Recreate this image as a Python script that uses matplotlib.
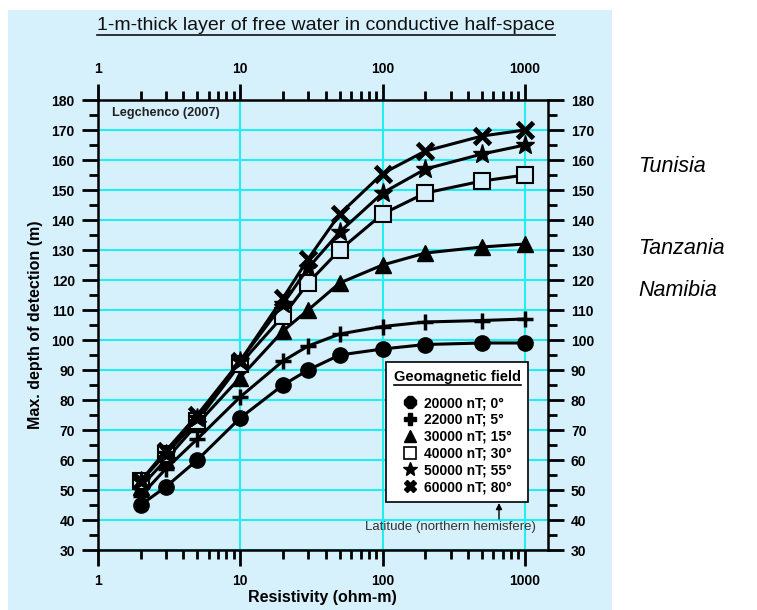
import matplotlib
matplotlib.use("Agg")
import matplotlib.pyplot as plt
from matplotlib.lines import Line2D
from matplotlib.patches import Rectangle
from matplotlib.ticker import FixedLocator, NullFormatter, MultipleLocator

plt.rcParams['font.family'] = ['Liberation Sans', 'DejaVu Sans']
plt.rcParams['font.weight'] = 'bold'
plt.rcParams['axes.labelweight'] = 'bold'

# data
resistivity = [2, 3, 5, 10, 20, 30, 50, 100, 200, 500, 1000]
depth_20000 = [45, 51, 60, 74, 85, 90, 95, 97, 98.5, 99, 99]
depth_22000 = [48, 57, 67, 81, 93, 98, 102, 104.5, 106, 106.5, 107]
depth_30000 = [51, 60, 72, 87.5, 103, 110, 119, 125, 129, 131, 132]
depth_40000 = [53, 62, 73, 92, 108, 119, 130, 142, 149, 153, 155]
depth_50000 = [53, 62, 74, 93, 112, 124, 136, 149, 157, 162, 165]
depth_60000 = [53, 63, 75, 93, 114, 127, 142, 155.5, 163, 168, 170]
series_labels = ['20000 nT; 0°', '22000 nT; 5°', '30000 nT; 15°',
                 '40000 nT; 30°', '50000 nT; 55°', '60000 nT; 80°']
countries = ['Tunisia', 'Tanzania', 'Namibia']

BG = '#d6f0fc'
GRID = '#22eef2'
W, H = 757, 610

fig = plt.figure(figsize=(W / 100, H / 100), dpi=100)
fig.patches.append(Rectangle((8 / W, 0), 604 / W, 600 / H, transform=fig.transFigure,
                             facecolor=BG, edgecolor='none', zorder=-10))
ax = fig.add_axes([97.7 / W, 60 / H, (548 - 97.7) / W, 450 / H])
ax.set_facecolor(BG)

all_depths = [depth_20000, depth_22000, depth_30000, depth_40000, depth_50000, depth_60000]
styles = [
    dict(marker='o', markersize=11, markerfacecolor='black'),
    dict(marker='+', markersize=12, markeredgewidth=2.5),
    dict(marker='^', markersize=11, markerfacecolor='black'),
    dict(marker='s', markersize=12, markerfacecolor=BG, markeredgewidth=1.5),
    dict(marker='*', markersize=14, markerfacecolor='black'),
    dict(marker='x', markersize=12, markeredgewidth=3.5),
]
for depths, st in zip(all_depths, styles):
    ax.plot(resistivity, depths, color='black', lw=2.2, markeredgecolor='black', zorder=3, **st)

ax.set_xscale('log')
ax.set_xlim(1, 10 ** (3 + 23 / 142.4))
ax.set_ylim(30, 180)
ax.xaxis.set_major_locator(FixedLocator([1, 10, 100, 1000]))
ax.set_xticklabels(['1', '10', '100', '1000'])
minors = [m * d for d in (1, 10, 100) for m in range(2, 10)]
ax.xaxis.set_minor_locator(FixedLocator(minors))
ax.xaxis.set_minor_formatter(NullFormatter())
ax.yaxis.set_major_locator(MultipleLocator(10))
ax.yaxis.set_minor_locator(MultipleLocator(5))

ax.grid(True, which='major', color=GRID, lw=1.5, zorder=0)
ax.set_axisbelow(True)
for sp in ax.spines.values():
    sp.set_linewidth(1.8)

ax.tick_params(which='both', direction='out', top=True, right=True,
               labeltop=True, labelright=True, width=2.0, color='black')
ax.tick_params(which='major', length=11.5, pad=5, labelsize=10)
ax.tick_params(which='minor', length=6.5)
ax.tick_params(axis='x', which='major', pad=6)

ax.set_xlabel('Resistivity (ohm-m)', fontsize=11.5, labelpad=1)
ax.set_ylabel('Max. depth of detection (m)', fontsize=11.5, labelpad=6)

ax.text(112 / W, 1 - 113 / H, 'Legchenco (2007)', transform=fig.transFigure,
        fontsize=9.2, color='#222222', va='center')

title = fig.text(326 / W, 1 - 25 / H, '1-m-thick layer of free water in conductive half-space',
                 ha='center', va='center', fontsize=14, fontweight='normal', color='#111111')

# legend
leg_markers = [
    dict(marker='8', markersize=9, markerfacecolor='black'),
    dict(marker='P', markersize=9, markerfacecolor='black'),
    dict(marker='^', markersize=8, markerfacecolor='black'),
    dict(marker='s', markersize=9, markerfacecolor='white', markeredgewidth=1.2),
    dict(marker='*', markersize=10, markerfacecolor='black'),
    dict(marker='X', markersize=9, markerfacecolor='black'),
]
handles = [Line2D([], [], linestyle='none', color='black', markeredgecolor='black', **m)
           for m in leg_markers]
leg = ax.legend(handles, series_labels, loc='upper left',
                bbox_to_anchor=(386 / W, 1 - 362 / H), bbox_transform=fig.transFigure,
                borderaxespad=0,
                fancybox=False, framealpha=1, edgecolor='black', facecolor='white',
                prop=dict(weight='bold', size=10), handlelength=1.0, handletextpad=0.5,
                labelspacing=0.2, borderpad=0.55, title='Geomagnetic field',
                title_fontproperties=dict(weight='bold', size=10.5))
leg.get_frame().set_linewidth(1.2)
leg._legend_box.sep = 9

arrow = ax.annotate('', xy=(499 / W, 1 - 503 / H), xytext=(499 / W, 1 - 519 / H),
                    xycoords='figure fraction',
                    arrowprops=dict(arrowstyle='-|>', color='black', lw=1.0, mutation_scale=9,
                                    shrinkA=0, shrinkB=0))
arrow.set_zorder(10)
fig.text(450 / W, 1 - 527 / H, 'Latitude (northern hemisfere)', ha='center', va='center',
         fontsize=9.5, fontweight='normal', color='#333333')

for name, y in zip(countries, [167, 248, 290]):
    fig.text(638 / W, 1 - y / H, name, fontsize=15.5, fontweight='normal',
             style='italic', va='center')

# underline title texts
fig.canvas.draw()
r = fig.canvas.get_renderer()
for t in [title, leg.get_title()]:
    bb = t.get_window_extent(r)
    yy = (bb.y0 - 1) / H
    fig.add_artist(Line2D([bb.x0 / W, bb.x1 / W], [yy, yy], transform=fig.transFigure,
                          color=t.get_color(), lw=1.2))

fig.savefig('out.png', dpi=100)
